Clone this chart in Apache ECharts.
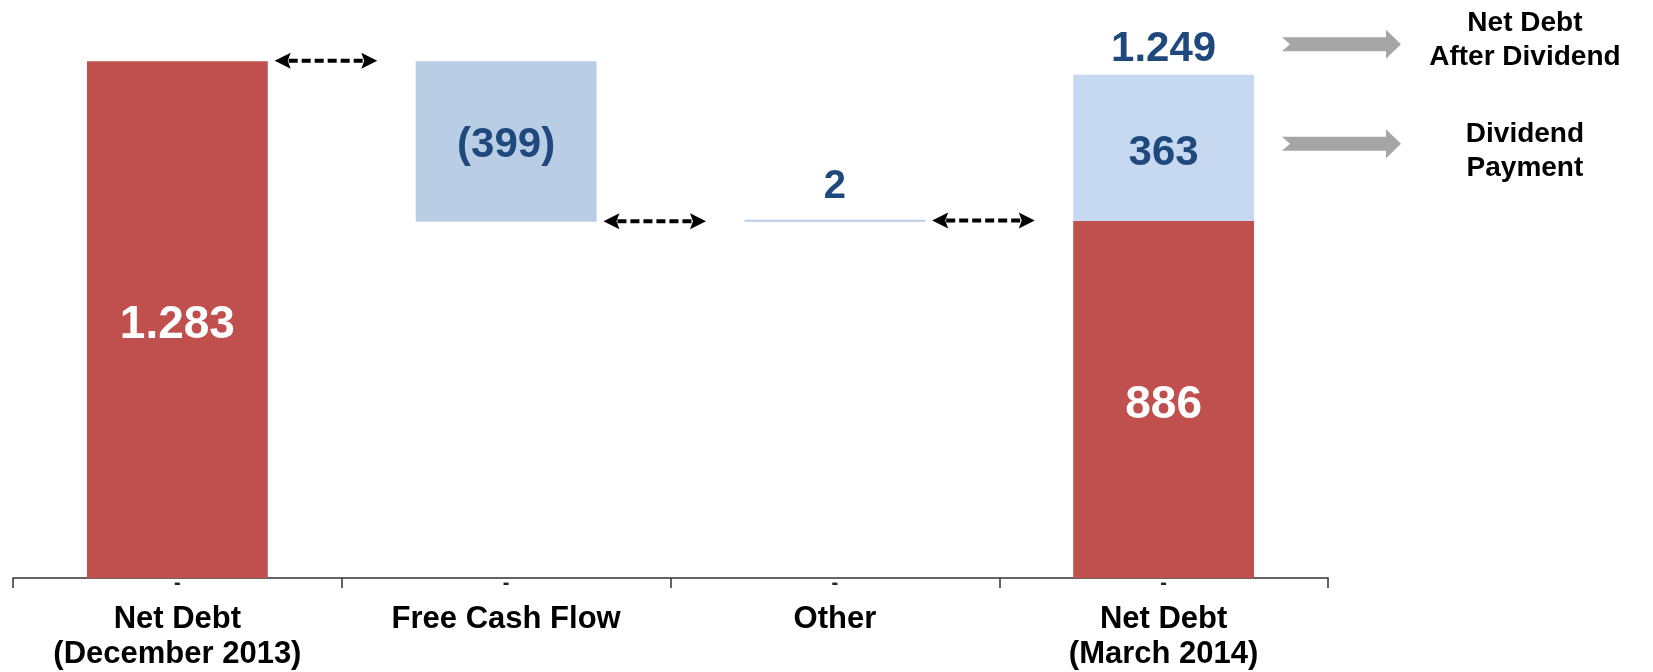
<!DOCTYPE html>
<html><head><meta charset="utf-8">
<script src="https://cdn.jsdelivr.net/npm/echarts@6/dist/echarts.min.js"></script>
<style>html,body{margin:0;padding:0;background:#fff}#c{width:1653px;height:672px}</style>
</head><body><div id="c"></div>
<script>
// ---- data ----
const categories = ['Net Debt\n(December 2013)', 'Free Cash Flow', 'Other', 'Net Debt\n(March 2014)'];
const tickMarks = ['-', '-', '-', '-'];
const openingDebt = 1283;
const movements = [-399, 2];          // Free Cash Flow, Other
const closingDebt = 886;
const dividendPayment = 363;
const noteTexts = ['Net Debt\nAfter Dividend', 'Dividend\nPayment'];
const noteArrowValues = [1325, 1078];
const noteTextValues = [1336, 1060];

// ---- derived waterfall ----
const FONT = '"Liberation Sans", Arial, sans-serif';
const RED = '#C0504D', BLUE1 = '#B9CDE5', BLUE2 = '#C6D9F1', TXT = '#1F497D';
const fmt = v => { const s = String(Math.abs(v)).replace(/\B(?=(\d{3})+(?!\d))/g, '.'); return v < 0 ? '(' + s + ')' : s; };

const baseData = ['-'], redData = [openingDebt], blueData = ['-'];
const levels = [openingDebt];
let run = openingDebt;
movements.forEach((m, i) => {
  const next = run + m;
  baseData.push(Math.min(run, next));
  redData.push('-');
  blueData.push({
    value: Math.abs(m), signed: m,
    itemStyle: { color: BLUE1 },
    label: Math.abs(m) < 50 ? { position: 'top', distance: 13, fontSize: 40 } : { position: 'inside', offset: [0, 4] }
  });
  run = next;
  levels.push(run);
});
baseData.push('-');
redData.push(closingDebt);
blueData.push({ value: dividendPayment, signed: dividendPayment, itemStyle: { color: BLUE2 }, label: { position: 'inside', offset: [0, 5] } });
const afterDividend = closingDebt + dividendPayment;
const lastIdx = categories.length - 1;
const BARW = 0.55;

const chart = echarts.init(document.getElementById('c'), null, { renderer: 'canvas' });
chart.setOption({
  animation: false,
  backgroundColor: '#fff',
  grid: { left: 13, right: 325, top: 14, bottom: 93, containLabel: false },
  xAxis: [{
    type: 'category', data: categories, position: 'bottom',
    axisLine: { show: true, lineStyle: { color: '#333', width: 1.5 } },
    axisTick: { show: true, length: 10, lineStyle: { color: '#333', width: 1.5 } },
    axisLabel: { margin: 24, fontFamily: FONT, fontWeight: 'bold', fontSize: 31, lineHeight: 35, color: '#000' },
    splitLine: { show: false }
  }, {
    type: 'category', data: tickMarks, position: 'bottom', gridIndex: 0,
    axisLine: { show: false }, axisTick: { show: false },
    axisLabel: { margin: -5, fontFamily: FONT, fontWeight: 'bold', fontSize: 20, lineHeight: 20, color: '#222',
      formatter: (v, i) => tickMarks[i] },
    splitLine: { show: false }
  }],
  yAxis: { type: 'value', min: 0, max: 1400, show: false, splitLine: { show: false } },
  series: [
    { name: 'base', type: 'bar', stack: 'w', data: baseData, barWidth: '55%',
      itemStyle: { color: 'transparent' }, silent: true },
    { name: 'Net Debt', type: 'bar', stack: 'w', data: redData, barWidth: '55%',
      itemStyle: { color: RED },
      label: { show: true, position: 'inside', offset: [0, 6], color: '#fff', fontFamily: FONT, fontWeight: 'bold', fontSize: 46,
        formatter: p => fmt(p.value) } },
    { name: 'Change', type: 'bar', stack: 'w', data: blueData, barWidth: '55%', barMinHeight: 2,
      label: { show: true, color: TXT, fontFamily: FONT, fontWeight: 'bold', fontSize: 42,
        formatter: p => fmt(p.data.signed) } },
    { name: 'links', type: 'custom', silent: true, clip: false, z: 5,
      data: levels.map((lv, i) => [i, lv]),
      renderItem(params, api) {
        const band = api.size([1, 0])[0];
        const c = api.coord([api.value(0), api.value(1)]);
        const x0 = c[0] + band * BARW / 2 + band * 0.021;
        const x1 = x0 + band * 0.312;
        const y = c[1] - 0.5;
        const h = 16, hw = 8;
        return { type: 'group', children: [
          { type: 'line', shape: { x1: x0 + h - 2, y1: y, x2: x1 - h + 2, y2: y },
            style: { stroke: '#000', lineWidth: 4, lineDash: [9, 4] } },
          { type: 'polygon', shape: { points: [[x0, y], [x0 + h, y - hw], [x0 + h - 3, y], [x0 + h, y + hw]] }, style: { fill: '#000' } },
          { type: 'polygon', shape: { points: [[x1, y], [x1 - h, y - hw], [x1 - h + 3, y], [x1 - h, y + hw]] }, style: { fill: '#000' } }
        ] };
      } },
    { name: 'total', type: 'custom', silent: true, clip: false, z: 6,
      data: [[lastIdx, afterDividend]],
      renderItem(params, api) {
        const c = api.coord([api.value(0), api.value(1)]);
        return { type: 'text', style: { text: fmt(api.value(1)), x: c[0], y: c[1] - 25,
          align: 'center', verticalAlign: 'middle', fill: TXT, font: 'bold 42px ' + FONT } };
      } },
    { name: 'notes', type: 'custom', silent: true, clip: false, z: 6,
      data: noteArrowValues.map((v, i) => [lastIdx, v, noteTextValues[i]]),
      renderItem(params, api) {
        const band = api.size([1, 0])[0];
        const c = api.coord([api.value(0), api.value(1)]);
        const ty = api.coord([api.value(0), api.value(2)])[1];
        const x0 = c[0] + band * BARW / 2 + band * 0.085;
        const xt = x0 + band * 0.362;
        const xh = xt - 15;
        const y = c[1];
        return { type: 'group', children: [
          { type: 'polygon', shape: { points: [[x0, y - 7], [xh, y - 7], [xh, y - 14.5], [xt, y], [xh, y + 14.5], [xh, y + 7], [x0, y + 7], [x0 + 8, y]] },
            style: { fill: '#A6A6A6' } },
          { type: 'text', style: { text: noteTexts[params.dataIndex], x: xt + band * 0.377, y: ty,
            align: 'center', verticalAlign: 'middle', fill: '#000', font: 'bold 28px ' + FONT, lineHeight: 34 } }
        ] };
      } }
  ]
});
</script></body></html>
